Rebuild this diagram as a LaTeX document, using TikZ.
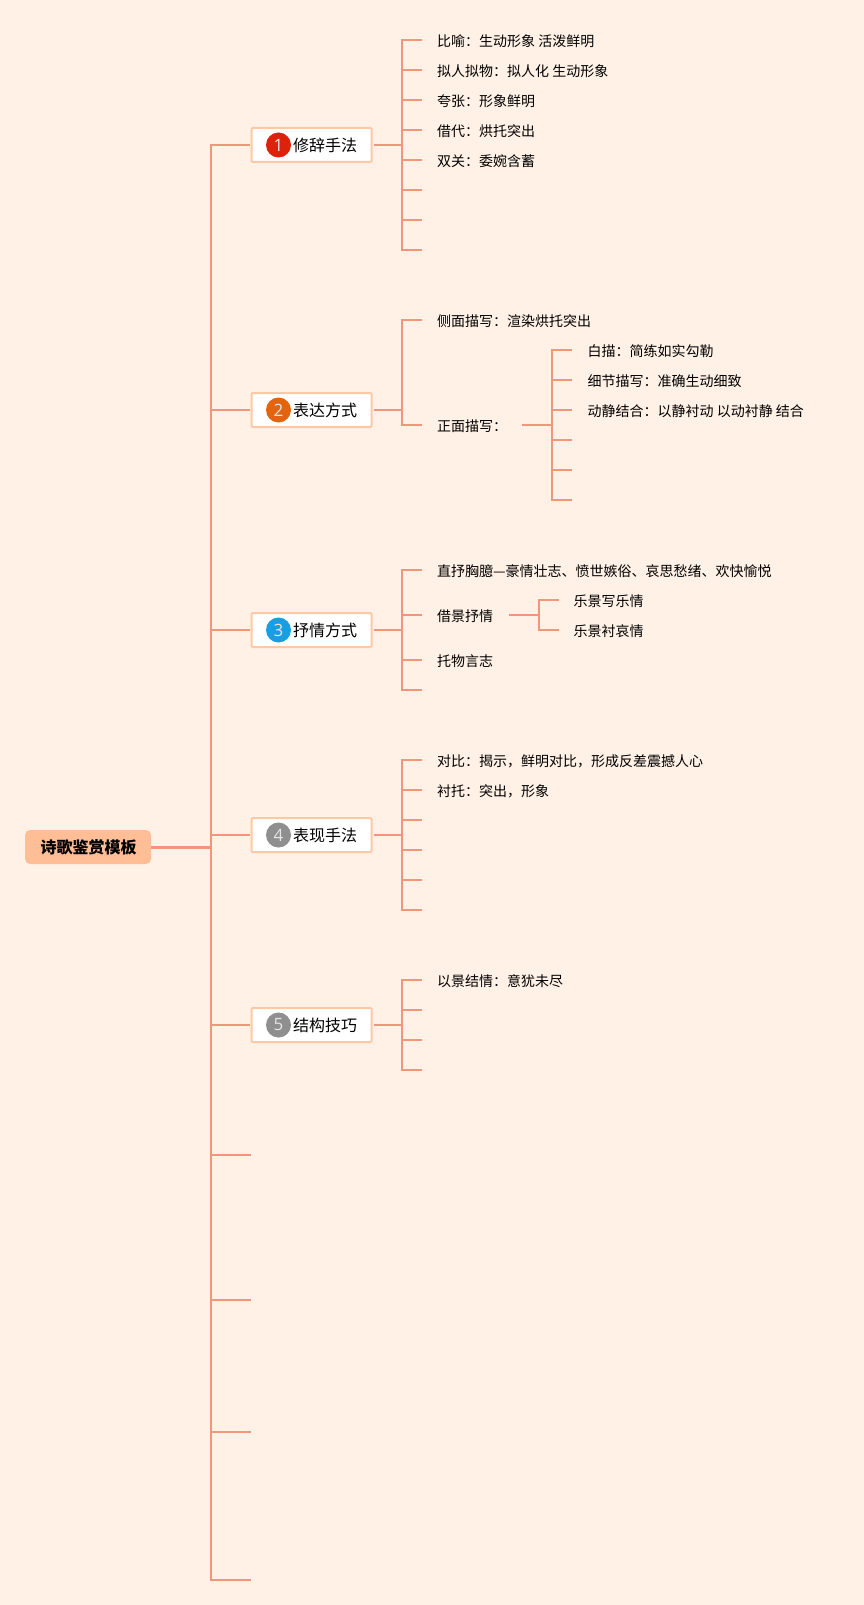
\documentclass[tikz,border=0pt]{standalone}
\usepackage{fontspec}
\setmainfont{Noto Sans CJK SC}
\newfontfamily\numfont{Open Sans}
\definecolor{bgc}{HTML}{FFF1E6}
\definecolor{linec}{HTML}{F2967B}
\definecolor{boxb}{HTML}{FDC8A6}
\definecolor{rootc}{HTML}{FFBE96}
\definecolor{tred}{HTML}{DD220B}
\definecolor{torg}{HTML}{E2640F}
\definecolor{tblu}{HTML}{169FE3}
\definecolor{tgry}{HTML}{8F8F8F}
\tikzset{
  wire/.style={draw=linec,line width=2.2pt},
  rootbox/.style={fill=rootc,rounded corners=5pt,minimum width=126pt,minimum height=34pt,inner sep=0pt,font=\fontsize{16}{18}\selectfont\bfseries,text=black},
  branchbox/.style={draw=boxb,line width=2pt,fill=white,rounded corners=1pt,minimum width=120pt,minimum height=34pt,inner sep=0pt},
  badge/.style={circle,minimum size=25pt,inner sep=0pt,text=white!90!black,font=\numfont\fontsize{17}{18}\selectfont},
  branchtext/.style={anchor=west,inner sep=0pt,font=\fontsize{16}{18}\selectfont,text=black},
  leaf/.style={anchor=west,inner sep=0pt,font=\fontsize{14}{16}\selectfont,text=black}
}
\newcommand{\Branch}[5]{% name, y, colour, number, text
  \node[branchbox,anchor=west] (#1) at (250.5,#2) {};
  \node[badge,fill=#3] (#1b) at (278.5,#2) {#4};
  \node[branchtext] (#1t) at (293,#2+0.5) {#5};
  \draw[wire,shorten >=1pt] (main|-#1) -- (#1.west);
}
\begin{document}
\begin{tikzpicture}[x=1pt,y=-1pt]
\useasboundingbox[fill=bgc] (0,0) rectangle (864,1605);
\coordinate (main) at (211,847);
\coordinate (mainTop) at (211,145);
\coordinate (mainBot) at (211,1580);
\node[rootbox] (root) at (88,847) {\hspace{1pt}诗歌鉴赏模板};
\draw[wire,line width=3pt] (root.east) -- (main);
\draw[wire,line cap=rect] (mainTop) -- (mainBot);
\Branch{a}{145}{tred}{1}{修辞手法}
\Branch{b}{410}{torg}{2}{表达方式}
\Branch{c}{630}{tblu}{3}{抒情方式}
\Branch{d}{835}{tgry}{4}{表现手法}
\Branch{e}{1025}{tgry}{5}{结构技巧}
\foreach \n/\y in {m1/1155,m2/1300,m3/1432,m4/1580}{
  \coordinate (\n) at (251,\y);
  \draw[wire] (main|-\n) -- (\n);
}
\foreach \p/\ys/\top/\bot in {a/{40,70,100,130,160,190,220,250}/40/250,
    b/{320,425}/320/425,
    c/{570,615,660,690}/570/690,
    d/{760,790,820,850,880,910}/760/910,
    e/{980,1010,1040,1070}/980/1070}{
  \coordinate (\p s) at (402,0);
  \draw[wire,shorten <=1pt] (\p.east) -- (\p s|-\p);
  \draw[wire,line cap=rect] (402,\top) -- (402,\bot);
  \foreach \y in \ys { \draw[wire] (402,\y) -- (422,\y); }
}
\node[leaf] (a1) at (437,41.5) {比喻：生动形象 活泼鲜明};
\node[leaf] (a2) at (437,71.5) {拟人拟物：拟人化 生动形象};
\node[leaf] (a3) at (437,101.5) {夸张：形象鲜明};
\node[leaf] (a4) at (437,131.5) {借代：烘托突出};
\node[leaf] (a5) at (437,161.5) {双关：委婉含蓄};
\node[leaf] (b1) at (437,321.5) {侧面描写：渲染烘托突出};
\node[leaf] (b2) at (437,426.5) {正面描写：};
\coordinate (b2r) at (522,425);
\coordinate (b2s) at (552,425);
\draw[wire] (b2r) -- (b2s);
\draw[wire,line cap=rect] (552,350) -- (552,500);
\foreach \y in {350,380,410,440,470,500}{ \draw[wire] (552,\y) -- (572,\y); }
\node[leaf] (b21) at (587.5,351.5) {白描：简练如实勾勒};
\node[leaf] (b22) at (587.5,381.5) {细节描写：准确生动细致};
\node[leaf] (b23) at (587.5,411.5) {动静结合：以静衬动 以动衬静 结合};
\node[leaf] (c1) at (437,571.5) {直抒胸臆—豪情壮志、愤世嫉俗、哀思愁绪、欢快愉悦};
\node[leaf] (c2) at (437,616.5) {借景抒情};
\node[leaf] (c3) at (437,661.5) {托物言志};
\coordinate (c2r) at (508.5,615);
\coordinate (c2s) at (539,615);
\draw[wire] (c2r) -- (c2s);
\draw[wire,line cap=rect] (539,600) -- (539,630);
\foreach \y in {600,630}{ \draw[wire] (539,\y) -- (559,\y); }
\node[leaf] (c21) at (573.5,601.5) {乐景写乐情};
\node[leaf] (c22) at (573.5,631.5) {乐景衬哀情};
\node[leaf] (d1) at (437,761.5) {对比：揭示，鲜明对比，形成反差震撼人心};
\node[leaf] (d2) at (437,791.5) {衬托：突出，形象};
\node[leaf] (e1) at (437,981.5) {以景结情：意犹未尽};
\end{tikzpicture}
\end{document}
